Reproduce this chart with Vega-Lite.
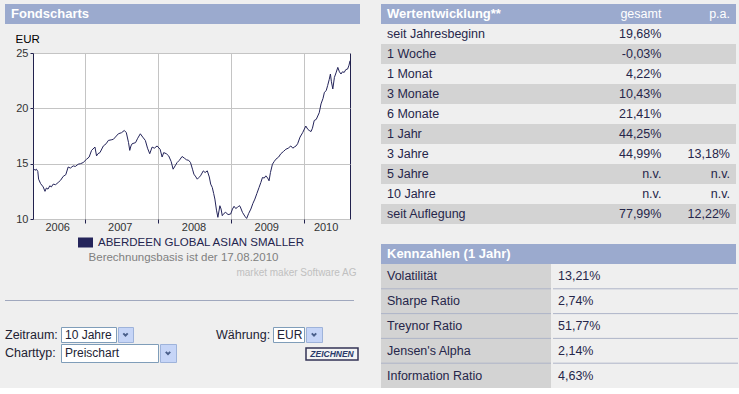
{
  "$schema": "https://vega.github.io/schema/vega-lite/v6.json",
  "padding": {"left": 5, "top": 4, "right": 0, "bottom": 0},
  "background": "#EFEFEF",
  "config": {"view": {"stroke": null}, "font": "Liberation Sans"},
  "align": "none",
  "bounds": "full",
  "spacing": 20,
  "concat": [
    {
      "align": "none",
      "bounds": "full",
      "spacing": 0,
      "columns": 1,
      "concat": [
        {
          "width": 355, "height": 20,
          "view": {"fill": "#9BAACE", "stroke": null},
          "data": {"values": [{"heading": "Fondscharts"}]},
          "mark": {"type": "text", "align": "left", "baseline": "middle", "fontSize": 13, "fontWeight": "bold", "color": "#FFFFFF"},
          "encoding": {
            "text": {"field": "heading"},
            "x": {"datum": "h", "type": "nominal", "scale": {"type": "band", "domain": ["h"], "paddingInner": 0, "paddingOuter": 0.0175}, "bandPosition": 0, "axis": null}
          }
        },
        {"width": 355, "height": 8, "data": {"values": []}, "mark": "point"},
        {
          "align": "none",
          "bounds": "full",
          "spacing": 0,
          "concat": [
            {"width": 9, "height": 1, "data": {"values": []}, "mark": "point"},
            {
              "width": 317, "height": 166,
              "view": {"fill": "#FFFFFF", "stroke": "#22224E", "strokeWidth": 1},
              "data": {"values": [
                {"date": "2006-04-14", "value": 14.6},
                {"date": "2006-04-24", "value": 14.4},
                {"date": "2006-05-01", "value": 14.5},
                {"date": "2006-05-08", "value": 14.3},
                {"date": "2006-05-12", "value": 13.6},
                {"date": "2006-05-22", "value": 13.2},
                {"date": "2006-06-04", "value": 12.9},
                {"date": "2006-06-13", "value": 12.5},
                {"date": "2006-06-20", "value": 12.8},
                {"date": "2006-06-28", "value": 12.7},
                {"date": "2006-07-07", "value": 13.0},
                {"date": "2006-07-15", "value": 12.9},
                {"date": "2006-07-24", "value": 13.15},
                {"date": "2006-08-05", "value": 13.1},
                {"date": "2006-08-18", "value": 13.3},
                {"date": "2006-08-30", "value": 13.5},
                {"date": "2006-09-12", "value": 13.85},
                {"date": "2006-09-25", "value": 14.0},
                {"date": "2006-10-07", "value": 14.7},
                {"date": "2006-10-18", "value": 14.6},
                {"date": "2006-11-01", "value": 14.8},
                {"date": "2006-11-12", "value": 14.75},
                {"date": "2006-11-26", "value": 14.95},
                {"date": "2006-12-08", "value": 15.0},
                {"date": "2006-12-21", "value": 15.1},
                {"date": "2007-01-07", "value": 15.4},
                {"date": "2007-01-20", "value": 15.6},
                {"date": "2007-02-01", "value": 16.2},
                {"date": "2007-02-18", "value": 16.5},
                {"date": "2007-02-26", "value": 15.7},
                {"date": "2007-03-05", "value": 15.9},
                {"date": "2007-03-15", "value": 16.0},
                {"date": "2007-04-01", "value": 16.6},
                {"date": "2007-04-15", "value": 16.8},
                {"date": "2007-04-26", "value": 17.1},
                {"date": "2007-05-10", "value": 17.15},
                {"date": "2007-05-21", "value": 17.2},
                {"date": "2007-06-05", "value": 17.5},
                {"date": "2007-06-15", "value": 17.7},
                {"date": "2007-07-01", "value": 17.8},
                {"date": "2007-07-15", "value": 18.0},
                {"date": "2007-07-25", "value": 17.8},
                {"date": "2007-08-05", "value": 16.9},
                {"date": "2007-08-11", "value": 16.2},
                {"date": "2007-08-17", "value": 16.6},
                {"date": "2007-08-23", "value": 16.8},
                {"date": "2007-09-09", "value": 16.9},
                {"date": "2007-09-20", "value": 17.3},
                {"date": "2007-10-03", "value": 17.7},
                {"date": "2007-10-15", "value": 17.4},
                {"date": "2007-10-28", "value": 17.1},
                {"date": "2007-11-08", "value": 16.4},
                {"date": "2007-11-19", "value": 15.9},
                {"date": "2007-12-01", "value": 16.5},
                {"date": "2007-12-12", "value": 16.4},
                {"date": "2007-12-26", "value": 16.6},
                {"date": "2008-01-10", "value": 16.3},
                {"date": "2008-01-20", "value": 15.6},
                {"date": "2008-01-28", "value": 16.0},
                {"date": "2008-02-10", "value": 15.9},
                {"date": "2008-02-22", "value": 15.7},
                {"date": "2008-03-05", "value": 15.2},
                {"date": "2008-03-15", "value": 14.5},
                {"date": "2008-03-25", "value": 14.8},
                {"date": "2008-04-04", "value": 15.1},
                {"date": "2008-04-15", "value": 15.3},
                {"date": "2008-04-29", "value": 15.65},
                {"date": "2008-05-10", "value": 15.5},
                {"date": "2008-05-21", "value": 15.35},
                {"date": "2008-06-01", "value": 15.3},
                {"date": "2008-06-10", "value": 15.1},
                {"date": "2008-06-20", "value": 14.5},
                {"date": "2008-06-27", "value": 14.05},
                {"date": "2008-07-07", "value": 13.8},
                {"date": "2008-07-14", "value": 13.6},
                {"date": "2008-07-22", "value": 13.75},
                {"date": "2008-07-30", "value": 13.9},
                {"date": "2008-08-13", "value": 14.35},
                {"date": "2008-08-22", "value": 14.2},
                {"date": "2008-09-02", "value": 14.35},
                {"date": "2008-09-12", "value": 13.8},
                {"date": "2008-09-19", "value": 13.15},
                {"date": "2008-09-27", "value": 12.85},
                {"date": "2008-10-04", "value": 12.3},
                {"date": "2008-10-10", "value": 11.8},
                {"date": "2008-10-18", "value": 10.8},
                {"date": "2008-10-25", "value": 10.15},
                {"date": "2008-11-04", "value": 11.2},
                {"date": "2008-11-10", "value": 10.9},
                {"date": "2008-11-16", "value": 10.3},
                {"date": "2008-11-24", "value": 10.5},
                {"date": "2008-12-03", "value": 10.6},
                {"date": "2008-12-15", "value": 10.4},
                {"date": "2008-12-28", "value": 10.45},
                {"date": "2009-01-06", "value": 10.9},
                {"date": "2009-01-14", "value": 11.15},
                {"date": "2009-01-22", "value": 10.95},
                {"date": "2009-01-31", "value": 11.05},
                {"date": "2009-02-08", "value": 11.2},
                {"date": "2009-02-13", "value": 11.15},
                {"date": "2009-02-25", "value": 10.6},
                {"date": "2009-03-09", "value": 10.25},
                {"date": "2009-03-18", "value": 10.05},
                {"date": "2009-03-28", "value": 10.5},
                {"date": "2009-04-08", "value": 10.9},
                {"date": "2009-04-18", "value": 11.4},
                {"date": "2009-04-28", "value": 11.8},
                {"date": "2009-05-08", "value": 12.3},
                {"date": "2009-05-19", "value": 12.85},
                {"date": "2009-05-28", "value": 13.3},
                {"date": "2009-06-05", "value": 13.75},
                {"date": "2009-06-14", "value": 13.7},
                {"date": "2009-06-22", "value": 13.9},
                {"date": "2009-07-01", "value": 13.7},
                {"date": "2009-07-08", "value": 13.45},
                {"date": "2009-07-15", "value": 14.2},
                {"date": "2009-07-25", "value": 14.95},
                {"date": "2009-08-03", "value": 15.2},
                {"date": "2009-08-11", "value": 15.4},
                {"date": "2009-08-25", "value": 15.6},
                {"date": "2009-09-05", "value": 15.9},
                {"date": "2009-09-18", "value": 16.1},
                {"date": "2009-09-30", "value": 16.3},
                {"date": "2009-10-12", "value": 16.4},
                {"date": "2009-10-25", "value": 16.6},
                {"date": "2009-11-04", "value": 16.4},
                {"date": "2009-11-11", "value": 16.5},
                {"date": "2009-11-20", "value": 16.6},
                {"date": "2009-11-28", "value": 16.8},
                {"date": "2009-12-10", "value": 17.4},
                {"date": "2009-12-23", "value": 17.8},
                {"date": "2010-01-08", "value": 18.4},
                {"date": "2010-01-18", "value": 18.1},
                {"date": "2010-01-25", "value": 18.0},
                {"date": "2010-02-03", "value": 17.9},
                {"date": "2010-02-10", "value": 18.2},
                {"date": "2010-02-19", "value": 18.9},
                {"date": "2010-03-01", "value": 19.0},
                {"date": "2010-03-16", "value": 19.6},
                {"date": "2010-03-25", "value": 20.4},
                {"date": "2010-04-04", "value": 20.9},
                {"date": "2010-04-11", "value": 21.45},
                {"date": "2010-04-20", "value": 21.6},
                {"date": "2010-04-27", "value": 22.05},
                {"date": "2010-05-05", "value": 22.6},
                {"date": "2010-05-11", "value": 23.1},
                {"date": "2010-05-16", "value": 22.4},
                {"date": "2010-05-23", "value": 21.75},
                {"date": "2010-05-31", "value": 22.8},
                {"date": "2010-06-08", "value": 23.2},
                {"date": "2010-06-17", "value": 23.7},
                {"date": "2010-06-25", "value": 23.3},
                {"date": "2010-07-03", "value": 23.1},
                {"date": "2010-07-10", "value": 23.3},
                {"date": "2010-07-19", "value": 23.25},
                {"date": "2010-07-27", "value": 23.5},
                {"date": "2010-08-05", "value": 23.55},
                {"date": "2010-08-12", "value": 23.9},
                {"date": "2010-08-17", "value": 24.3}
              ]},
              "resolve": {"axis": {"x": "independent"}},
              "layer": [
                {
                  "mark": {"type": "line", "strokeWidth": 1, "clip": true},
                  "encoding": {
                    "x": {
                      "field": "date", "type": "temporal",
                      "scale": {"type": "utc", "domain": [{"year": 2006, "month": 4, "date": 14, "utc": true}, {"year": 2010, "month": 8, "date": 17, "utc": true}]},
                      "axis": {
                        "orient": "bottom",
                        "values": [{"year": 2007, "month": 1, "date": 1, "utc": true}, {"year": 2008, "month": 1, "date": 1, "utc": true}, {"year": 2009, "month": 1, "date": 1, "utc": true}, {"year": 2010, "month": 1, "date": 1, "utc": true}],
                        "labels": false, "grid": true, "gridColor": "#C4C4C4", "ticks": true, "tickSize": 4, "tickColor": "#22224E", "domain": false,
                        "title": "Berechnungsbasis ist der 17.08.2010", "titleX": 150, "titleY": 38, "titleAlign": "center", "titleBaseline": "middle",
                        "titleFontSize": 11.5, "titleFontWeight": "normal", "titleColor": "#808080"
                      }
                    },
                    "y": {
                      "field": "value", "type": "quantitative",
                      "scale": {"domain": [10, 25], "nice": false, "zero": false},
                      "axis": {
                        "values": [10, 12.5, 15, 17.5, 20, 22.5, 25],
                        "labelExpr": "datum.value % 5 === 0 ? datum.label : ''",
                        "grid": true,
                        "gridColor": {"condition": {"test": "datum.value % 5 !== 0", "value": "transparent"}, "value": "#C4C4C4"},
                        "domain": false, "ticks": true, "tickSize": 3, "tickColor": "#22224E",
                        "labelFontSize": 11, "labelColor": "#333333", "labelPadding": 2,
                        "title": "EUR", "titleAngle": 0, "titleAlign": "left", "titleBaseline": "middle", "titleX": -18, "titleY": -14,
                        "titleFontSize": 11.5, "titleFontWeight": "normal", "titleColor": "#000000"
                      }
                    },
                    "color": {
                      "datum": "ABERDEEN GLOBAL ASIAN SMALLER", "type": "nominal",
                      "scale": {"range": ["#24245A"]},
                      "legend": {
                        "orient": "none", "legendX": 73, "legendY": 231, "title": null, "padding": 0,
                        "symbolType": "M-1,-0.667H1V0.667H-1Z", "symbolSize": 225, "symbolStrokeWidth": 0, "symbolFillColor": "#24245A",
                        "labelFontSize": 11.5, "labelColor": "#24244E", "labelOffset": 5, "labelLimit": 400
                      }
                    }
                  }
                },
                {
                  "mark": {"type": "line", "strokeOpacity": 0},
                  "encoding": {
                    "x": {
                      "field": "date", "type": "temporal",
                      "axis": {
                        "orient": "bottom",
                        "values": [{"year": 2006, "month": 8, "date": 13, "utc": true}, {"year": 2007, "month": 6, "date": 22, "utc": true}, {"year": 2008, "month": 6, "date": 25, "utc": true}, {"year": 2009, "month": 6, "date": 24, "utc": true}, {"year": 2010, "month": 4, "date": 17, "utc": true}],
                        "labelExpr": "utcFormat(datum.value, '%Y')",
                        "grid": false, "ticks": false, "domain": false, "labelPadding": 2, "labelFontSize": 11, "labelColor": "#333333",
                        "title": "market maker Software AG", "titleX": 323, "titleY": 53, "titleAlign": "right", "titleBaseline": "middle",
                        "titleFontSize": 10, "titleFontWeight": "normal", "titleColor": "#C0C0C0"
                      }
                    },
                    "y": {"field": "value", "type": "quantitative"}
                  }
                }
              ]
            }
          ]
        },
        {"width": 355, "height": 22, "data": {"values": []}, "mark": "point"},
        {"width": 349, "height": 1, "view": {"fill": "#A0A8BE", "stroke": null}, "data": {"values": []}, "mark": "point"},
        {"width": 355, "height": 25, "data": {"values": []}, "mark": "point"},
        {
          "align": "none",
          "bounds": "full",
          "spacing": 0,
          "concat": [
            {
              "width": 55, "height": 15,
              "data": {"values": [{"caption": "Zeitraum:"}]},
              "mark": {"type": "text", "align": "left", "baseline": "middle", "fontSize": 12.5, "color": "#222233"},
              "encoding": {"text": {"field": "caption"}, "x": {"datum": "c", "type": "nominal", "scale": {"type": "band", "domain": ["c"], "paddingInner": 0, "paddingOuter": 0}, "bandPosition": 0, "axis": null}}
            },
            {
              "width": 55, "height": 15,
              "view": {"fill": "#FFFFFF", "stroke": "#7F9DB9"},
              "data": {"values": [{"choice": "10 Jahre"}]},
              "mark": {"type": "text", "align": "left", "baseline": "middle", "fontSize": 12, "color": "#222233"},
              "encoding": {"text": {"field": "choice"}, "x": {"datum": "c", "type": "nominal", "scale": {"type": "band", "domain": ["c"], "paddingInner": 0, "paddingOuter": 0.085}, "bandPosition": 0, "axis": null}}
            },
            {
              "width": 15, "height": 15,
              "view": {"fill": "#C6D5F7", "stroke": "#9EB3DA"},
              "data": {"values": [{"control": "arrow"}]},
              "mark": {"type": "point", "shape": "M-0.7,-0.35L0,0.35L0.7,-0.35", "filled": false, "stroke": "#4A5F8A", "strokeWidth": 2, "size": 40, "opacity": 1},
              "encoding": {}
            },
            {"width": 82, "height": 15, "data": {"values": []}, "mark": "point"},
            {
              "width": 56, "height": 15,
              "data": {"values": [{"caption": "Währung:"}]},
              "mark": {"type": "text", "align": "left", "baseline": "middle", "fontSize": 12.5, "color": "#222233"},
              "encoding": {"text": {"field": "caption"}, "x": {"datum": "c", "type": "nominal", "scale": {"type": "band", "domain": ["c"], "paddingInner": 0, "paddingOuter": 0}, "bandPosition": 0, "axis": null}}
            },
            {
              "width": 31, "height": 15,
              "view": {"fill": "#FFFFFF", "stroke": "#7F9DB9"},
              "data": {"values": [{"choice": "EUR"}]},
              "mark": {"type": "text", "align": "left", "baseline": "middle", "fontSize": 12, "color": "#222233"},
              "encoding": {"text": {"field": "choice"}, "x": {"datum": "c", "type": "nominal", "scale": {"type": "band", "domain": ["c"], "paddingInner": 0, "paddingOuter": 0.174}, "bandPosition": 0, "axis": null}}
            },
            {
              "width": 16, "height": 15,
              "view": {"fill": "#C6D5F7", "stroke": "#9EB3DA"},
              "data": {"values": [{"control": "arrow"}]},
              "mark": {"type": "point", "shape": "M-0.7,-0.35L0,0.35L0.7,-0.35", "filled": false, "stroke": "#4A5F8A", "strokeWidth": 2, "size": 40, "opacity": 1},
              "encoding": {}
            }
          ]
        },
        {
          "align": "none",
          "bounds": "full",
          "spacing": 0,
          "concat": [
            {
              "width": 55, "height": 18,
              "data": {"values": [{"caption": "Charttyp:"}]},
              "mark": {"type": "text", "align": "left", "baseline": "middle", "fontSize": 12.5, "color": "#222233"},
              "encoding": {"text": {"field": "caption"}, "x": {"datum": "c", "type": "nominal", "scale": {"type": "band", "domain": ["c"], "paddingInner": 0, "paddingOuter": 0}, "bandPosition": 0, "axis": null}}
            },
            {
              "width": 97, "height": 18,
              "view": {"fill": "#FFFFFF", "stroke": "#7F9DB9"},
              "data": {"values": [{"choice": "Preischart"}]},
              "mark": {"type": "text", "align": "left", "baseline": "middle", "fontSize": 12, "color": "#222233"},
              "encoding": {"text": {"field": "choice"}, "x": {"datum": "c", "type": "nominal", "scale": {"type": "band", "domain": ["c"], "paddingInner": 0, "paddingOuter": 0.045}, "bandPosition": 0, "axis": null}}
            },
            {
              "width": 16, "height": 18,
              "view": {"fill": "#C6D5F7", "stroke": "#9EB3DA"},
              "data": {"values": [{"control": "arrow"}]},
              "mark": {"type": "point", "shape": "M-0.7,-0.35L0,0.35L0.7,-0.35", "filled": false, "stroke": "#4A5F8A", "strokeWidth": 2, "size": 40, "opacity": 1},
              "encoding": {}
            },
            {"width": 128, "height": 18, "data": {"values": []}, "mark": "point"},
            {
              "align": "none",
              "bounds": "full",
              "spacing": 0,
              "columns": 1,
              "concat": [
                {"width": 52, "height": 3, "data": {"values": []}, "mark": "point"},
                {
                  "width": 52, "height": 12,
                  "view": {"fill": "#F4F4F4", "stroke": "#333355", "strokeWidth": 1.5},
                  "data": {"values": [{"button": "ZEICHNEN"}]},
                  "mark": {"type": "text", "align": "center", "baseline": "middle", "fontSize": 8.5, "fontWeight": "bold", "fontStyle": "italic", "color": "#2A3A6A"},
                  "encoding": {"text": {"field": "button"}}
                }
              ]
            }
          ]
        }
      ]
    },
    {
      "align": "none",
      "bounds": "full",
      "spacing": 0,
      "columns": 1,
      "concat": [
        {
          "width": 355, "height": 20,
          "view": {"fill": "#9BAACE", "stroke": null},
          "data": {"values": [{"heading": "Wertentwicklung**", "c1": "gesamt", "c2": "p.a."}]},
          "layer": [
            {
              "mark": {"type": "text", "align": "left", "baseline": "middle", "fontSize": 13, "fontWeight": "bold", "color": "#FFFFFF"},
              "encoding": {"text": {"field": "heading"}, "x": {"datum": "label", "type": "nominal", "scale": {"type": "band", "domain": ["label", "a", "b", "gesamt", "pa"], "paddingInner": 0, "paddingOuter": 0.0875}, "bandPosition": 0, "axis": null}}
            },
            {
              "mark": {"type": "text", "align": "right", "baseline": "middle", "fontSize": 12.5, "color": "#FFFFFF"},
              "encoding": {"text": {"field": "c1"}, "x": {"datum": "gesamt", "type": "nominal", "bandPosition": 1, "axis": null}}
            },
            {
              "mark": {"type": "text", "align": "right", "baseline": "middle", "fontSize": 12.5, "color": "#FFFFFF"},
              "encoding": {"text": {"field": "c2"}, "x": {"datum": "pa", "type": "nominal", "bandPosition": 1, "axis": null}}
            }
          ]
        },
        {
          "width": 355, "height": 200,
          "data": {"values": [
            {"period": "seit Jahresbeginn", "gesamt": "19,68%", "pa": ""},
            {"period": "1 Woche", "gesamt": "-0,03%", "pa": ""},
            {"period": "1 Monat", "gesamt": "4,22%", "pa": ""},
            {"period": "3 Monate", "gesamt": "10,43%", "pa": ""},
            {"period": "6 Monate", "gesamt": "21,41%", "pa": ""},
            {"period": "1 Jahr", "gesamt": "44,25%", "pa": ""},
            {"period": "3 Jahre", "gesamt": "44,99%", "pa": "13,18%"},
            {"period": "5 Jahre", "gesamt": "n.v.", "pa": "n.v."},
            {"period": "10 Jahre", "gesamt": "n.v.", "pa": "n.v."},
            {"period": "seit Auflegung", "gesamt": "77,99%", "pa": "12,22%"}
          ]},
          "encoding": {
            "y": {
              "field": "period", "type": "nominal",
              "scale": {"type": "band", "domain": ["seit Jahresbeginn", "1 Woche", "1 Monat", "3 Monate", "6 Monate", "1 Jahr", "3 Jahre", "5 Jahre", "10 Jahre", "seit Auflegung"], "paddingInner": 0, "paddingOuter": 0},
              "axis": null
            }
          },
          "layer": [
            {
              "transform": [{"filter": {"field": "period", "oneOf": ["1 Woche", "3 Monate", "1 Jahr", "5 Jahre", "seit Auflegung"]}}],
              "mark": {"type": "rect", "color": "#D3D3D3"}
            },
            {
              "mark": {"type": "text", "align": "left", "baseline": "middle", "fontSize": 12.5, "color": "#26264A"},
              "encoding": {"text": {"field": "period"}, "x": {"datum": "label", "type": "nominal", "scale": {"type": "band", "domain": ["label", "a", "b", "gesamt", "pa"], "paddingInner": 0, "paddingOuter": 0.0875}, "bandPosition": 0, "axis": null}}
            },
            {
              "mark": {"type": "text", "align": "right", "baseline": "middle", "fontSize": 12.5, "color": "#26264A"},
              "encoding": {"text": {"field": "gesamt"}, "x": {"datum": "gesamt", "type": "nominal", "bandPosition": 1, "axis": null}}
            },
            {
              "mark": {"type": "text", "align": "right", "baseline": "middle", "fontSize": 12.5, "color": "#26264A"},
              "encoding": {"text": {"field": "pa"}, "x": {"datum": "pa", "type": "nominal", "bandPosition": 1, "axis": null}}
            }
          ]
        },
        {"width": 355, "height": 20, "data": {"values": []}, "mark": "point"},
        {
          "width": 355, "height": 20,
          "view": {"fill": "#9BAACE", "stroke": null},
          "data": {"values": [{"heading": "Kennzahlen (1 Jahr)"}]},
          "mark": {"type": "text", "align": "left", "baseline": "middle", "fontSize": 13, "fontWeight": "bold", "color": "#FFFFFF"},
          "encoding": {"text": {"field": "heading"}, "x": {"datum": "h", "type": "nominal", "scale": {"type": "band", "domain": ["h"], "paddingInner": 0, "paddingOuter": 0.0175}, "bandPosition": 0, "axis": null}}
        },
        {
          "align": "none",
          "bounds": "full",
          "spacing": 0,
          "concat": [
            {
              "width": 170, "height": 124,
              "view": {"fill": "#D3D3D3", "stroke": null},
              "data": {"values": [
                {"kennzahl": "Volatilität", "wert": "13,21%"},
                {"kennzahl": "Sharpe Ratio", "wert": "2,74%"},
                {"kennzahl": "Treynor Ratio", "wert": "51,77%"},
                {"kennzahl": "Jensen's Alpha", "wert": "2,14%"},
                {"kennzahl": "Information Ratio", "wert": "4,63%"}
              ]},
              "encoding": {"y": {"field": "kennzahl", "type": "nominal", "scale": {"type": "band", "domain": ["Volatilität", "Sharpe Ratio", "Treynor Ratio", "Jensen's Alpha", "Information Ratio"], "paddingInner": 0, "paddingOuter": 0}, "axis": null}},
              "layer": [
                {
                  "transform": [{"filter": "datum.kennzahl !== 'Information Ratio'"}],
                  "mark": {"type": "rule", "color": "#AEB4C8", "strokeWidth": 1},
                  "encoding": {"y": {"field": "kennzahl", "type": "nominal", "bandPosition": 1, "axis": null}}
                },
                {
                  "mark": {"type": "text", "align": "left", "baseline": "middle", "fontSize": 12.5, "color": "#26264A"},
                  "encoding": {"text": {"field": "kennzahl"}, "x": {"datum": "k", "type": "nominal", "scale": {"type": "band", "domain": ["k"], "paddingInner": 0, "paddingOuter": 0.038}, "bandPosition": 0, "axis": null}}
                }
              ]
            },
            {
              "width": 185, "height": 124,
              "data": {"values": [
                {"kennzahl": "Volatilität", "wert": "13,21%"},
                {"kennzahl": "Sharpe Ratio", "wert": "2,74%"},
                {"kennzahl": "Treynor Ratio", "wert": "51,77%"},
                {"kennzahl": "Jensen's Alpha", "wert": "2,14%"},
                {"kennzahl": "Information Ratio", "wert": "4,63%"}
              ]},
              "encoding": {"y": {"field": "kennzahl", "type": "nominal", "scale": {"type": "band", "domain": ["Volatilität", "Sharpe Ratio", "Treynor Ratio", "Jensen's Alpha", "Information Ratio"], "paddingInner": 0, "paddingOuter": 0}, "axis": null}},
              "layer": [
                {
                  "transform": [{"filter": "datum.kennzahl !== 'Information Ratio'"}],
                  "mark": {"type": "rule", "color": "#AEB4C8", "strokeWidth": 1},
                  "encoding": {"y": {"field": "kennzahl", "type": "nominal", "bandPosition": 1, "axis": null}}
                },
                {
                  "mark": {"type": "text", "align": "left", "baseline": "middle", "fontSize": 12.5, "color": "#26264A"},
                  "encoding": {"text": {"field": "wert"}, "x": {"datum": "w", "type": "nominal", "scale": {"type": "band", "domain": ["w"], "paddingInner": 0, "paddingOuter": 0.0286}, "bandPosition": 0, "axis": null}}
                }
              ]
            }
          ]
        }
      ]
    }
  ]
}
